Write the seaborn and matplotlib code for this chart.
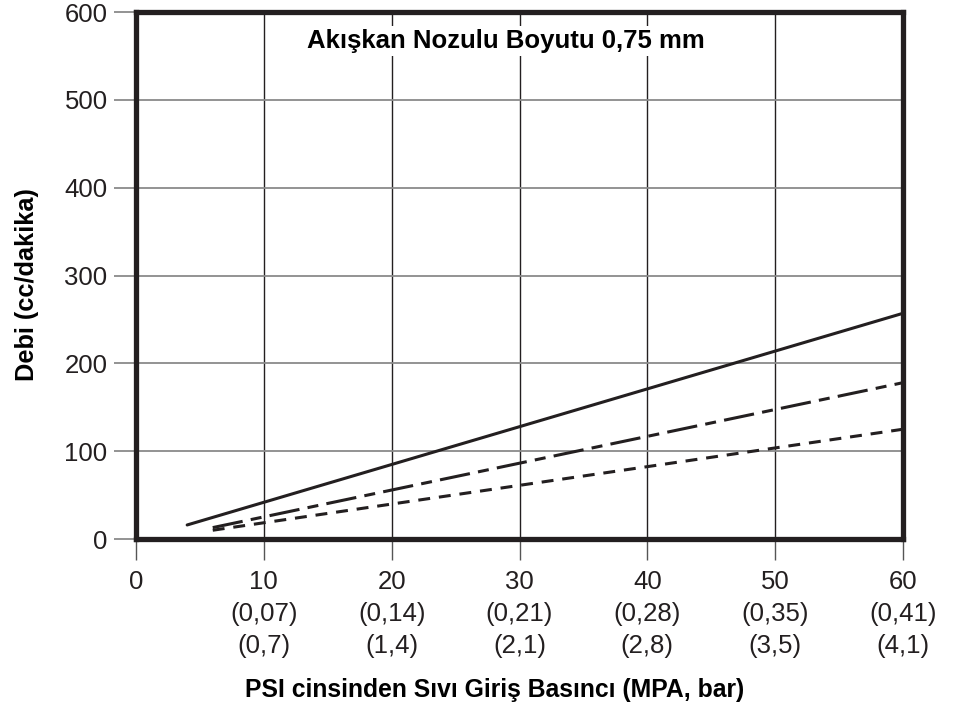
import matplotlib
matplotlib.use("Agg")
import matplotlib.pyplot as plt
import seaborn as sns
import pandas as pd

# ---- data ----
psi_solid = [4, 60]
flow_solid = [16, 257]
psi_longdash = [6, 60]
flow_longdash = [13, 178]
psi_shortdash = [6, 60]
flow_shortdash = [10, 125]

x_ticks = [0, 10, 20, 30, 40, 50, 60]
x_tick_labels = ["0", "10\n(0,07)\n(0,7)", "20\n(0,14)\n(1,4)", "30\n(0,21)\n(2,1)",
                 "40\n(0,28)\n(2,8)", "50\n(0,35)\n(3,5)", "60\n(0,41)\n(4,1)"]
y_ticks = [0, 100, 200, 300, 400, 500, 600]

title = "Akışkan Nozulu Boyutu 0,75 mm"
xlabel = "PSI cinsinden Sıvı Giriş Basıncı (MPA, bar)"
ylabel = "Debi (cc/dakika)"

df = pd.concat([
    pd.DataFrame({"psi": psi_solid, "flow": flow_solid, "series": "a"}),
    pd.DataFrame({"psi": psi_longdash, "flow": flow_longdash, "series": "b"}),
    pd.DataFrame({"psi": psi_shortdash, "flow": flow_shortdash, "series": "c"}),
])

sns.set_theme(style="white")
plt.rcParams["font.family"] = ["Liberation Sans", "DejaVu Sans"]

ink = "#231f20"
fig = plt.figure(figsize=(9.58, 7.07), dpi=100)
ax = fig.add_axes([0.142, 0.2376, 0.8006, 0.7454])

sns.lineplot(data=df, x="psi", y="flow", style="series",
             dashes={"a": "", "b": (10, 2.7, 3.6, 2.7), "c": (3.9, 2.9)},
             color=ink, linewidth=2.2, legend=False, ax=ax, zorder=3)

ax.set_xlim(0, 60)
ax.set_ylim(0, 600)
ax.set_xticks(x_ticks)
ax.set_xticklabels(x_tick_labels, fontsize=18.5, color=ink, linespacing=1.42)
ax.set_yticks(y_ticks)
ax.set_yticklabels([str(v) for v in y_ticks], fontsize=18.5, color=ink)

# grid
for v in x_ticks[1:-1]:
    ax.axvline(v, color=ink, lw=1.0, zorder=1)
for v in y_ticks[1:-1]:
    ax.axhline(v, color="#8a8a8a", lw=1.3, zorder=1)

for s in ax.spines.values():
    s.set_visible(True)
    s.set_linewidth(3.8)
    s.set_color(ink)

ax.tick_params(axis="x", direction="out", length=15, width=1.0, color="#555555",
               pad=7, bottom=True)
ax.tick_params(axis="y", direction="out", length=16, width=1.3, color="#8a8a8a",
               pad=4.5, left=True)

ax.text(0.482, 0.945, title, transform=ax.transAxes, ha="center", va="center",
        fontsize=18.5, fontweight="bold", color="black",
        bbox=dict(facecolor="white", edgecolor="none", pad=2), zorder=4)

ax.set_xlabel("")
ax.set_ylabel("")
fig.text(0.516, 0.024, xlabel, ha="center", va="center", fontsize=17.8,
         fontweight="bold", color="black")
fig.text(0.028, 0.598, ylabel, ha="center", va="center", rotation=90,
         fontsize=18.3, fontweight="bold", color="black")

fig.savefig("out.png", dpi=100, facecolor="white")
